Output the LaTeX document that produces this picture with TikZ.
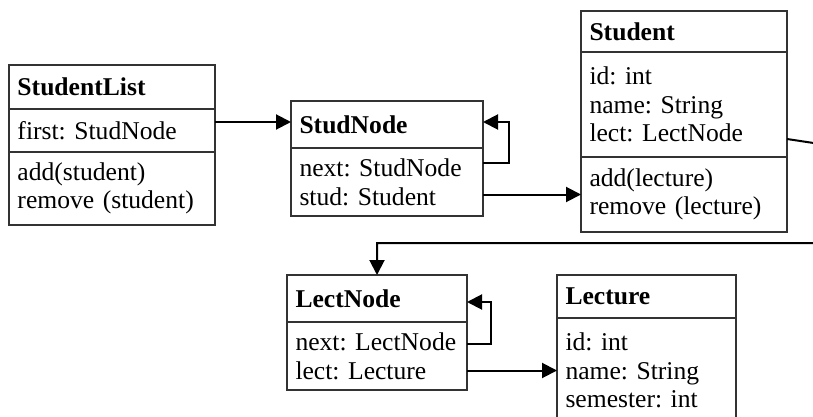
\documentclass[tikz,border=0pt]{standalone}
\usepackage{fontspec}
\setmainfont{Liberation Serif}
\frenchspacing
\hyphenpenalty=10000
\usetikzlibrary{arrows.meta,positioning}
\tikzset{
  classhead/.style={draw=black!80, line width=0.65pt, outer sep=0pt, inner xsep=4.25pt, inner ysep=0pt, align=left, execute at begin node=\bfseries},
  classpart/.style={draw=black!80, line width=0.65pt, outer sep=0pt, inner xsep=4.25pt, inner ysep=0pt, align=left},
  arrow/.style={-{Triangle[length=7.5pt, width=7.5pt]}, line width=1pt}
}

\begin{document}
\begin{tikzpicture}[x=0.5pt, y=-0.5pt, font=\fontsize{12.8}{14.3}\selectfont]
  \useasboundingbox (0,0) rectangle (813,417);
  \clip (0,0) rectangle (813,417);

  % StudentList
  \node[classhead, anchor=north west, text width=94.5pt, minimum height=22pt] (slhead) at (9,65) {StudentList};
  \node[classpart, below=0pt of slhead, text width=94.5pt, minimum height=21.5pt] (slattr) {first: StudNode};
  \node[classpart, below=0pt of slattr, text width=94.5pt, minimum height=36.5pt] (slmeth) {add(student)\\remove (student)};

  % StudNode
  \node[classhead, anchor=north west, text width=87.5pt, minimum height=23.5pt] (snhead) at (291,101) {StudNode};
  \node[classpart, below=0pt of snhead, text width=87.5pt, minimum height=34pt] (snattr) {next: StudNode\\stud: Student};

  % Student
  \node[classhead, anchor=north west, text width=94.5pt, minimum height=20.5pt] (sthead) at (581,11) {Student};
  \node[classpart, below=0pt of sthead, text width=94.5pt, minimum height=52.5pt] (stattr) {id: int\\name: String\\lect: LectNode};
  \node[classpart, below=0pt of stattr, text width=94.5pt, minimum height=37.5pt] (stmeth) {add(lecture)\\remove (lecture)};

  % LectNode
  \node[classhead, anchor=north west, text width=81.5pt, minimum height=23.5pt] (lnhead) at (287,275) {LectNode};
  \node[classpart, below=0pt of lnhead, text width=81.5pt, minimum height=34pt] (lnattr) {next: LectNode\\lect: Lecture};

  % Lecture
  \node[classhead, anchor=north west, text width=81pt, minimum height=21.5pt] (lchead) at (557,275) {Lecture};
  \node[classpart, below=0pt of lchead, text width=81pt, minimum height=52.5pt] (lcattr) {id: int\\name: String\\semester: int};

  \coordinate (snin) at ([yshift=1.25pt]snhead.west);
  \coordinate (stout) at ([yshift=-43.5pt]stattr.north east);
  \coordinate (rjog) at (840,147);
  \coordinate (lrow) at (0,243);

  \draw[arrow] (slattr.east |- snin) -- (snin);
  \draw[arrow] ([yshift=-7.5pt]snattr.north east) -- ++(13pt,0) |- ([yshift=1.25pt]snhead.east);
  \draw[arrow] (snattr.east |- stmeth.west) -- (stmeth.west);
  \draw[arrow] (stout) -- (rjog) |- (lnhead.north |- lrow) -- (lnhead.north);
  \draw[arrow] ([yshift=-11pt]lnattr.north east) -- ++(12pt,0) |- ([yshift=-1.75pt]lnhead.east);
  \draw[arrow] (lnattr.east |- lcattr.west) -- (lcattr.west);
\end{tikzpicture}
\end{document}
